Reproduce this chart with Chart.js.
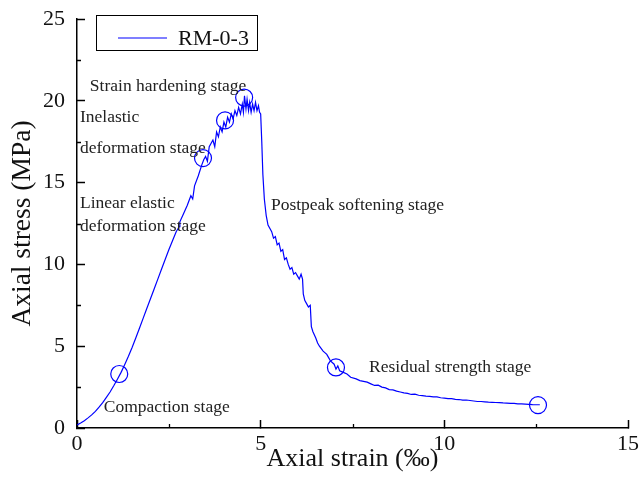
<!DOCTYPE html>
<html>
<head>
<meta charset="utf-8">
<script src="https://cdn.jsdelivr.net/npm/chart.js@4.4.1/dist/chart.umd.min.js"></script>
<style>
    html, body { margin: 0; padding: 0; background: #ffffff; }
    #chart { display: block; }
</style>
</head>
<body>
<canvas id="chart" width="642" height="496"></canvas>
<script>
// =============================================================================
// DATA
// =============================================================================

const seriesName = 'RM-0-3';

const strain = [
    0, 0.1, 0.2, 0.3, 0.4, 0.5, 0.6, 0.7, 0.8, 0.9,
    1.0, 1.1, 1.2, 1.3, 1.4, 1.5, 1.6, 1.7, 1.8, 1.9,
    2.0, 2.1, 2.2, 2.3, 2.4, 2.5, 2.6, 2.7, 2.78, 2.8,
    2.9, 3.0, 3.1, 3.15, 3.2, 3.3, 3.4, 3.45, 3.5, 3.55,
    3.6, 3.7, 3.75, 3.8, 3.85, 3.9, 3.95, 4.0, 4.05, 4.1,
    4.15, 4.2, 4.25, 4.3, 4.35, 4.4, 4.45, 4.5, 4.53, 4.56,
    4.6, 4.63, 4.67, 4.7, 4.74, 4.78, 4.82, 4.86, 4.9, 4.94,
    4.97, 5.0, 5.03, 5.06, 5.1, 5.15, 5.2, 5.3, 5.35, 5.4,
    5.45, 5.5, 5.55, 5.6, 5.65, 5.7, 5.75, 5.8, 5.85, 5.9,
    5.95, 6.0, 6.05, 6.1, 6.14, 6.16, 6.2, 6.25, 6.3, 6.35,
    6.38, 6.42, 6.5, 6.55, 6.6, 6.7, 6.8, 6.85, 6.9, 7.0,
    7.05, 7.1, 7.15, 7.25, 7.35, 7.45, 7.6, 7.7, 7.8, 7.9,
    8.0, 8.1, 8.2, 8.3, 8.4, 8.5, 8.6, 8.7, 8.8, 8.9,
    9.0, 9.1, 9.2, 9.3, 9.4, 9.5, 9.6, 9.7, 9.8, 9.9,
    10.0, 10.1, 10.2, 10.3, 10.4, 10.5, 10.6, 10.7, 10.8, 10.9,
    11.0, 11.1, 11.2, 11.3, 11.4, 11.5, 11.6, 11.7, 11.8, 11.9,
    12.0, 12.1, 12.2, 12.3, 12.4, 12.5, 12.6
];

const stress = [
    0.18, 0.3, 0.45, 0.62, 0.8, 1.02, 1.27, 1.55, 1.87, 2.2,
    2.58, 2.98, 3.4, 3.88, 4.38, 4.92, 5.5, 6.1, 6.7, 7.3,
    7.9, 8.5, 9.1, 9.7, 10.3, 10.9, 11.45, 12.0, 12.3, 12.6,
    13.1, 13.6, 14.2, 14.0, 14.8, 15.4, 16.1, 16.4, 16.6, 16.3,
    17.2, 17.6, 17.2, 18.1, 17.8, 18.4, 18.1, 18.7, 18.4, 19.0,
    18.7, 19.2, 18.9, 19.4, 19.1, 19.6, 19.2, 19.8, 19.3, 20.3,
    19.5, 20.1, 19.4, 19.9, 19.3, 19.8, 19.4, 19.9, 19.4, 19.7,
    19.3, 19.2, 17.5, 15.5, 14.0, 13.0, 12.4, 12.0, 11.6, 11.7,
    11.2, 11.3, 10.8, 10.9, 10.3, 10.4, 10.0, 9.7, 9.8, 9.4,
    9.5, 9.3, 9.1, 9.4, 9.1, 8.2, 7.8, 7.6, 7.4, 7.5,
    6.2, 5.9, 5.5, 5.2, 5.0, 4.7, 4.5, 4.3, 4.1, 3.9,
    3.6, 3.8, 3.5, 3.4, 3.3, 3.1, 3.0, 2.9, 2.85, 2.8,
    2.7, 2.6, 2.62, 2.5, 2.45, 2.35, 2.33, 2.25, 2.2, 2.15,
    2.12, 2.05, 2.07, 2.0, 1.98, 1.95, 1.93, 1.9, 1.9, 1.85,
    1.83, 1.8, 1.8, 1.75, 1.74, 1.7, 1.71, 1.68, 1.65, 1.62,
    1.62, 1.6, 1.58, 1.57, 1.56, 1.55, 1.53, 1.52, 1.5, 1.5,
    1.48, 1.47, 1.46, 1.45, 1.43, 1.42, 1.42
];

// stage markers (circles)
const markerStrain = [1.15, 3.43, 4.03, 4.55, 7.05, 12.55];
const markerStress = [3.3, 16.5, 18.8, 20.2, 3.7, 1.4];

// stage labels, placed at [strain, stress] of their left / middle edge
const stageLabels = [
    'Strain hardening stage',
    'Inelastic',
    'deformation stage',
    'Linear elastic',
    'deformation stage',
    'Postpeak softening stage',
    'Residual strength stage',
    'Compaction stage'
];
const stageLabelStrain = [0.35, 0.08, 0.08, 0.08, 0.08, 5.28, 7.95, 0.73];
const stageLabelStress = [20.9, 19.0, 17.1, 13.75, 12.35, 13.63, 3.73, 1.28];

const xTicks = [0, 5, 10, 15];
const yTicks = [0, 5, 10, 15, 20, 25];

// =============================================================================
// STYLE
// =============================================================================

const serif = "'Liberation Serif', 'Times New Roman', serif";
const lineBlue = '#0000ff';

// minor ticks halfway between the labelled ones, pointing into the plot
const minorTicksPlugin = {
    id: 'minorTicks',
    afterDraw(chart) {
        const { ctx, scales: { x, y } } = chart;
        ctx.save();
        ctx.strokeStyle = '#000';
        ctx.lineWidth = 1.3;
        ctx.beginPath();
        for (let i = 0; i < xTicks.length - 1; i++) {
            const px = Math.round(x.getPixelForValue((xTicks[i] + xTicks[i + 1]) / 2)) + 0.5;
            ctx.moveTo(px, y.bottom);
            ctx.lineTo(px, y.bottom - 4);
        }
        for (let i = 0; i < yTicks.length - 1; i++) {
            const py = Math.round(y.getPixelForValue((yTicks[i] + yTicks[i + 1]) / 2)) + 0.5;
            ctx.moveTo(x.left, py);
            ctx.lineTo(x.left + 4, py);
        }
        ctx.stroke();
        ctx.restore();
    }
};

const stageLabelPlugin = {
    id: 'stageLabels',
    afterDatasetsDraw(chart) {
        const { ctx, scales: { x, y } } = chart;
        ctx.save();
        ctx.fillStyle = '#222';
        ctx.font = '17.5px ' + serif;
        ctx.textAlign = 'left';
        ctx.textBaseline = 'middle';
        stageLabels.forEach((text, i) => {
            ctx.fillText(text, x.getPixelForValue(stageLabelStrain[i]), y.getPixelForValue(stageLabelStress[i]));
        });
        ctx.restore();
    }
};

// boxed legend in the top left corner
const boxLegendPlugin = {
    id: 'boxLegend',
    afterDraw(chart) {
        const { ctx } = chart;
        ctx.save();
        ctx.strokeStyle = '#000';
        ctx.lineWidth = 1;
        ctx.strokeRect(96.5, 15.5, 161, 35);
        ctx.strokeStyle = lineBlue;
        ctx.lineWidth = 1.2;
        ctx.beginPath();
        ctx.moveTo(118, 38);
        ctx.lineTo(167, 38);
        ctx.stroke();
        ctx.fillStyle = '#111';
        ctx.font = '22px ' + serif;
        ctx.textBaseline = 'middle';
        ctx.fillText(seriesName, 178, 39);
        ctx.restore();
    }
};

// =============================================================================
// CHART
// =============================================================================

const curvePoints = strain.map((v, i) => ({ x: v, y: stress[i] }));
const markerPoints = markerStrain.map((v, i) => ({ x: v, y: markerStress[i] }));

const axisTick = {
    color: '#111',
    font: { family: serif, size: 22 }
};

new Chart(document.getElementById('chart').getContext('2d'), {
    type: 'line',
    data: {
        datasets: [
            {
                label: seriesName,
                data: curvePoints,
                borderColor: lineBlue,
                borderWidth: 1.2,
                pointRadius: 0,
                tension: 0,
                fill: false
            },
            {
                label: 'stages',
                data: markerPoints,
                showLine: false,
                pointStyle: 'circle',
                pointRadius: 8.5,
                pointBorderWidth: 1.2,
                pointBorderColor: lineBlue,
                pointBackgroundColor: 'rgba(0,0,0,0)'
            }
        ]
    },
    options: {
        responsive: false,
        animation: false,
        layout: { padding: { top: 19, right: 14, left: 0, bottom: 0 } },
        plugins: {
            legend: { display: false },
            tooltip: { enabled: false }
        },
        scales: {
            x: {
                type: 'linear',
                min: 0,
                max: 15,
                afterBuildTicks: (scale) => { scale.ticks = xTicks.map(v => ({ value: v })); },
                afterFit: (scale) => {
                    scale.height = 68;
                    scale.paddingLeft = 0;
                    scale.paddingRight = 0;
                },
                border: { display: true, color: '#000', width: 1.5 },
                grid: { drawOnChartArea: false, drawTicks: true, tickLength: -8, tickColor: '#000', tickWidth: 1.5 },
                ticks: { ...axisTick, padding: 11, maxRotation: 0 },
                title: {
                    display: true,
                    text: 'Axial strain (‰)',
                    color: '#111',
                    font: { family: serif, size: 26 },
                    padding: { top: 0, bottom: 21 }
                }
            },
            y: {
                type: 'linear',
                min: 0,
                max: 25,
                afterBuildTicks: (scale) => { scale.ticks = yTicks.map(v => ({ value: v })); },
                afterFit: (scale) => {
                    scale.width = 77;
                    scale.paddingTop = 0;
                    scale.paddingBottom = 0;
                },
                border: { display: true, color: '#000', width: 1.5 },
                grid: { drawOnChartArea: false, drawTicks: true, tickLength: -8, tickColor: '#000', tickWidth: 1.5 },
                ticks: { ...axisTick, padding: 20 },
                title: {
                    display: true,
                    text: 'Axial stress (MPa)',
                    color: '#111',
                    font: { family: serif, size: 27.5 },
                    padding: { top: 6, bottom: 0 }
                }
            }
        }
    },
    plugins: [minorTicksPlugin, stageLabelPlugin, boxLegendPlugin]
});
</script>
</body>
</html>
